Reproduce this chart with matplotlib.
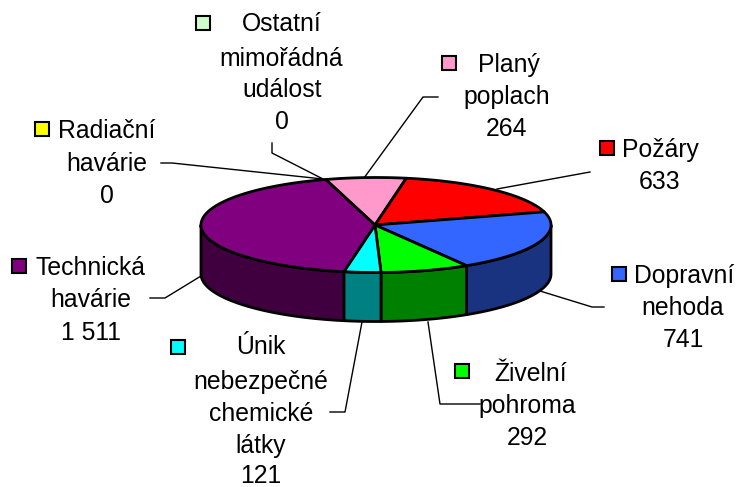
import numpy as np
import matplotlib
matplotlib.use("Agg")
import matplotlib.pyplot as plt
from matplotlib.patches import Polygon, Rectangle

plt.rcParams['font.family'] = ['Liberation Sans', 'DejaVu Sans']

# slices, clockwise from the pink one
names = ["Planý poplach", "Požáry", "Dopravní nehoda", "Živelní pohroma",
         "Únik nebezpečné chemické látky", "Technická havárie",
         "Radiační havárie", "Ostatní mimořádná událost"]
values = [264, 633, 741, 292, 121, 1511, 0, 0]
value_labels = ["264", "633", "741", "292", "121", "1 511", "0", "0"]
top_colors = ["#ff99cc", "#ff0000", "#3366ff", "#00ff00", "#00ffff", "#800080", "#ffff00", "#ccffcc"]
side_colors = ["#804d66", "#800000", "#1a3380", "#008000", "#008080", "#400040", "#808000", "#668066"]

# pie geometry in pixels
cx, cy = 376, 225
rx, ry = 175, 47.5
depth = 49
start = -16.7

# label layout: lines, x centre, y of each line, legend key x,y
label_lines = [
    (["Planý", "poplach", "264"], [509, 507, 507], [65, 97, 129], (449, 63)),
    (["Požáry", "633"], [660, 660], [150, 182], (607, 148)),
    (["Dopravní", "nehoda", "741"], [684, 683, 683], [276, 308, 340], (619, 274)),
    (["Živelní", "pohroma", "292"], [531, 527, 527], [374, 406, 438], (462, 371)),
    (["Únik", "nebezpečné", "chemické", "látky", "121"], [261, 261, 261, 261, 261],
     [347, 382, 414, 446, 476], (178, 347)),
    (["Technická", "havárie", "1 511"], [91, 91, 91], [268, 300, 333], (19, 266)),
    (["Radiační", "havárie", "0"], [107, 107, 107], [131, 164, 196], (42, 129)),
    (["Ostatní", "mimořádná", "událost", "0"], [282, 281, 282, 282], [24, 59, 90, 122], (203, 23)),
]
leaders = [
    [(438, 97), (423, 97), (364, 178)],
    [(590, 172), (497, 189)],
    [(604, 307), (592, 307), (540, 291)],
    [(480, 404), (440, 404), (428, 322)],
    [(330, 412), (345, 412), (362, 322)],
    [(150, 298), (165, 298), (201, 276)],
    [(161, 163), (172, 163), (323, 179)],
    [(272, 143), (272, 153), (323, 179)],
]


def arc(a0, a1):
    t = np.radians(np.linspace(a0, a1, max(int(abs(a1 - a0)) * 2, 2)))
    return np.column_stack([cx + rx * np.sin(t), cy - ry * np.cos(t)])


fig = plt.figure(figsize=(7.37, 4.87), dpi=100)
ax = fig.add_axes([0, 0, 1, 1])
ax.set_xlim(0, 737)
ax.set_ylim(487, 0)
ax.axis('off')

total = sum(values)
angles = start + np.concatenate([[0], np.cumsum(values)]) * 360 / total

# leader lines go under the pie
for pts in leaders:
    ax.plot(*zip(*pts), color='black', lw=1, zorder=1)

# side walls, only the front half shows
for i in range(len(values)):
    a0 = max(angles[i], 90)
    a1 = min(angles[i + 1], 270)
    if a1 <= a0:
        continue
    upper = arc(a0, a1)
    lower = upper[::-1] + [0, depth]
    ax.add_patch(Polygon(np.vstack([upper, lower]), closed=True, fc=side_colors[i],
                         ec='black', lw=2, joinstyle='round', zorder=2))

# top face
for i in range(len(values)):
    if values[i] == 0:
        continue
    pts = np.vstack([[cx - 1, cy], arc(angles[i], angles[i + 1])])
    ax.add_patch(Polygon(pts, closed=True, fc=top_colors[i], ec='black', lw=2,
                         joinstyle='round', zorder=3))

# labels and their legend keys
for i, (lines, xs, ys, key) in enumerate(label_lines):
    for s, x, y in zip(lines, xs, ys):
        ax.text(x, y, s, ha='center', va='center', fontsize=17.8, color='black', zorder=5)
    ax.add_patch(Rectangle((key[0] - 7, key[1] - 7), 14, 14, fc=top_colors[i], ec='black',
                           lw=1.5, zorder=5))

fig.savefig("out.png", dpi=100)
